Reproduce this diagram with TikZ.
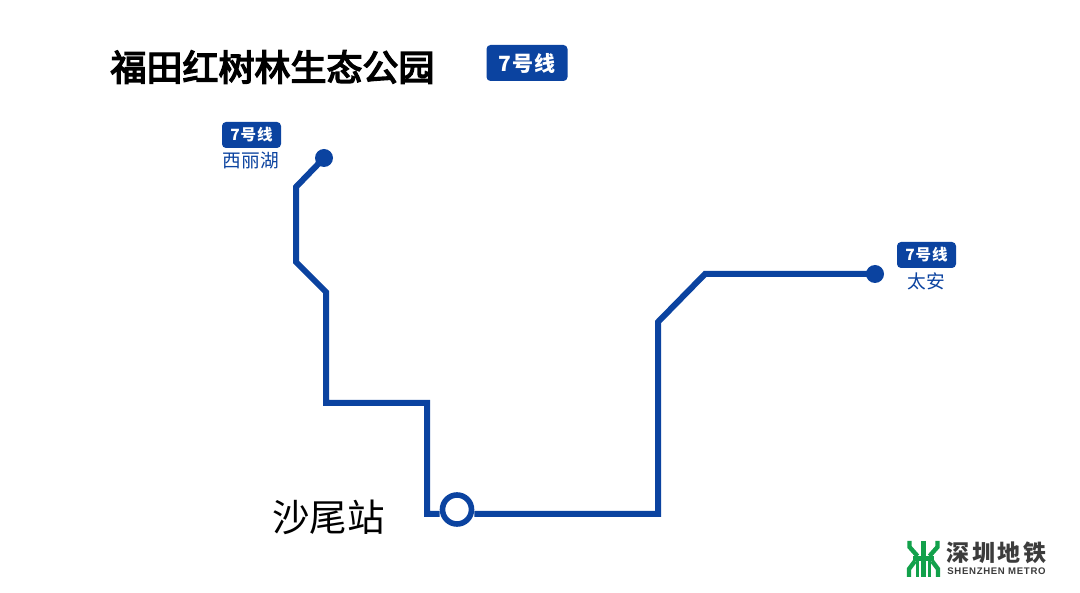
\documentclass[tikz,border=0pt]{standalone}
\usepackage{fontspec}
\setmainfont{Noto Sans CJK SC}
\newfontfamily\titlefont[FakeBold=4]{Noto Sans CJK SC}
\newfontfamily\badgefont[LetterSpace=6]{Noto Sans CJK SC Medium}
\newfontfamily\logocnfont[LetterSpace=11]{Noto Sans CJK SC Medium}
\newfontfamily\logolat[LetterSpace=7]{Liberation Sans}
\definecolor{lineblue}{HTML}{0B43A0}
\definecolor{logogreen}{HTML}{12A14B}
\definecolor{logogray}{HTML}{3C3C3C}
\begin{document}
\begin{tikzpicture}[x=1pt,y=-1pt,
  route/.style={draw=lineblue,line width=6pt,line join=miter},
  terminus/.style={circle,fill=lineblue,inner sep=0pt,minimum size=18pt},
  transfer/.style={circle,draw=lineblue,line width=5.6pt,fill=white,inner sep=0pt,minimum size=29pt},
  badge/.style={fill=lineblue,text=white,rounded corners=4pt,inner sep=0pt,font=\badgefont\bfseries\fontsize{15.5}{15.5}\selectfont},
  stationname/.style={text=lineblue,inner sep=0pt,font=\fontsize{18.7}{19}\selectfont},
  logomark/.style={draw=logogreen,line width=4.4pt}]
\useasboundingbox (0,0) rectangle (1080,593);
\fill[white] (0,0) rectangle (1080,593);

\node[inner sep=0pt,font=\titlefont\fontsize{36}{36}\selectfont] (title) at (272.5,67) {福田红树林生态公园};
\node[badge,minimum width=81pt,minimum height=36pt,font=\badgefont\bfseries\fontsize{21}{21}\selectfont] (mainbadge) at (527,63) {7号线};

\node[terminus] (xilihu) at (324,158) {};
\node[terminus] (taian) at (875,274) {};
\node[transfer] (shawei) at (457,509.5) {};

\node[badge,minimum width=59pt,minimum height=26pt] (badgeA) at (251.5,135) {7号线};
\node[stationname] (nameA) at (251,161) {西丽湖};
\node[badge,minimum width=59pt,minimum height=26pt] (badgeB) at (926.5,255) {7号线};
\node[stationname] (nameB) at (926,281) {太安};
\node[inner sep=0pt,font=\fontsize{37.5}{38}\selectfont] (shaweiname) at (328.5,517) {沙尾站};

\draw[route] (xilihu.center) -- (296,187) -- (296,262) -- (326,292) -- (326,403) -- (427,403) -- (427,514) -- (shawei.west |- 0,514);
\draw[route] (shawei.east |- 0,514) -- (658,514) -- (658,322) -- (705,274) -- (taian.center);

% logo mark
\draw[logomark] (909.5,541) -- (909.5,547) -- (917.5,556);
\draw[logomark] (937.5,541) -- (937.5,547) -- (929.5,556);
\draw[logomark] (923.5,541) -- (923.5,577);
\draw[logomark] (913,558.5) -- (934,558.5);
\draw[logomark,line width=3.6pt] (917.5,558) -- (917.5,577);
\draw[logomark,line width=3.6pt] (929.5,558) -- (929.5,577);
\draw[logomark] (909,577) -- (909,569) -- (915,561);
\draw[logomark] (938,577) -- (938,569) -- (932,561);
\node[inner sep=0pt,text=logogray,font=\logocnfont\bfseries\fontsize{23}{23}\selectfont] (logocn) at (996.5,553) {深圳地铁};
\node[inner sep=0pt,text=logogray,font=\logolat\bfseries\fontsize{9.6}{10}\selectfont] (logoen) at (996.5,571) {SHENZHEN METRO};
\end{tikzpicture}
\end{document}
